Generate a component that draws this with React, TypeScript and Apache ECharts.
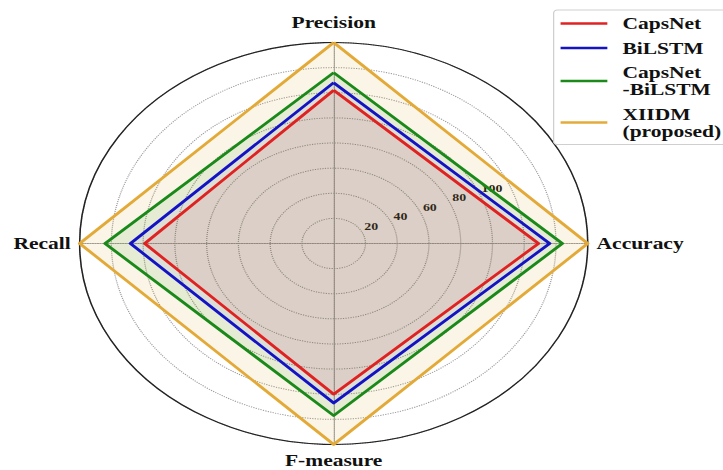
import React, { useEffect, useRef } from 'react';
import * as echarts from 'echarts';

// Radar axes, counter-clockwise from the top
const indicators = ['Precision', 'Recall', 'F-measure', 'Accuracy'];

// Radial scale: rings every 20, labelled 20..100
const ringMax = 160;
const ringStep = 20;
const ringLabels = [20, 40, 60, 80, 100];

// Model scores per indicator (same order as `indicators`)
const seriesNames = ['CapsNet', 'BiLSTM', 'CapsNet\n-BiLSTM', 'XIIDM\n(proposed)'];
const capsNet = [122, 119, 120, 129];
const biLSTM = [128, 128, 127, 136];
const capsNetBiLSTM = [136, 144, 137, 144];
const xiidm = [160, 160, 160, 160];

const lineColors = ['#e02222', '#1414c4', '#1b8a1b', '#e4ab3a'];
const fillColors = [
  'rgba(224,34,34,0.12)',
  'rgba(0,0,255,0.07)',
  'rgba(0,128,0,0.12)',
  'rgba(218,165,32,0.15)',
];

const WIDTH = 723;
const HEIGHT = 470;
const INNER_WIDTH = 572;
const STRETCH = WIDTH / INNER_WIDTH;
const FONT = '"Liberation Serif", "Times New Roman", serif';

const CENTER: [number, number] = [264, 243.5];
const RADIUS = 201;

const nameStyle = {
  fontFamily: FONT,
  fontWeight: 'bold' as const,
  fontSize: 17,
  color: '#111',
};

export default function App() {
  const ref = useRef<HTMLDivElement>(null);

  useEffect(() => {
    if (!ref.current) return;
    const chart = echarts.init(ref.current, undefined, { renderer: 'svg' });

    const values = [capsNet, biLSTM, capsNetBiLSTM, xiidm];
    // draw the largest polygon first so smaller ones sit on top
    const order = [3, 2, 1, 0];

    chart.setOption({
      animation: false,
      backgroundColor: '#ffffff',
      legend: {
        orient: 'vertical',
        left: 438,
        top: 10,
        icon: 'rect',
        itemWidth: 37,
        itemHeight: 2.5,
        itemGap: 7.5,
        padding: [5, 10, 5, 5.5],
        borderColor: '#cfcfcf',
        borderWidth: 1,
        borderRadius: 3,
        backgroundColor: '#ffffff',
        textStyle: {
          fontFamily: FONT,
          fontWeight: 'bold',
          fontSize: 17,
          lineHeight: 17,
          color: '#111',
          padding: [0, 0, 0, 7],
        },
        data: seriesNames,
      },
      polar: { center: CENTER, radius: RADIUS },
      angleAxis: {
        type: 'value',
        min: 0,
        max: 360,
        startAngle: 22.5,
        axisLine: { show: true, lineStyle: { color: '#222', width: 1.2 } },
        axisTick: { show: false },
        axisLabel: { show: false },
        splitLine: { show: false },
      },
      radiusAxis: {
        type: 'value',
        min: 0,
        max: ringMax,
        interval: ringStep,
        axisLine: { show: false },
        axisTick: { show: false },
        axisLabel: {
          formatter: (v: number) => (ringLabels.includes(v) ? String(v) : ''),
          fontFamily: FONT,
          fontWeight: 'bold',
          fontSize: 11,
          color: '#111',
          align: 'left',
          padding: [3, 0, 0, 4],
        },
        splitLine: { show: true, lineStyle: { color: '#9a9a9a', type: 'dotted', width: 1 } },
      },
      radar: {
        center: CENTER,
        radius: RADIUS,
        startAngle: 90,
        shape: 'circle',
        splitNumber: 8,
        indicator: indicators.map((name) => ({ name, min: 0, max: ringMax })),
        nameGap: 7,
        axisName: {
          ...nameStyle,
          formatter: (name: string) => (name === 'Precision' ? `{top|${name}}` : `{side|${name}}`),
          rich: {
            top: { ...nameStyle, padding: [0, 0, 5, 0] },
            side: { ...nameStyle },
          },
        },
        axisLine: { lineStyle: { color: '#9a9a9a', type: 'dotted', width: 1 } },
        splitLine: { show: false },
        splitArea: { show: false },
        axisTick: { show: false },
        axisLabel: { show: false },
      },
      series: [
        {
          type: 'radar',
          symbol: 'none',
          data: order.map((i) => ({
            name: seriesNames[i],
            value: values[i],
            itemStyle: { color: lineColors[i] },
            lineStyle: { color: lineColors[i], width: 2.6 },
            areaStyle: { color: fillColors[i] },
          })),
        },
      ],
    });

    return () => chart.dispose();
  }, []);

  return (
    <div
      style={{
        position: 'fixed',
        left: 0,
        top: 0,
        width: WIDTH,
        height: HEIGHT,
        overflow: 'hidden',
        background: '#fff',
      }}
    >
      <div
        ref={ref}
        style={{
          width: INNER_WIDTH,
          height: HEIGHT,
          transform: `scaleX(${STRETCH})`,
          transformOrigin: '0 0',
        }}
      />
    </div>
  );
}
